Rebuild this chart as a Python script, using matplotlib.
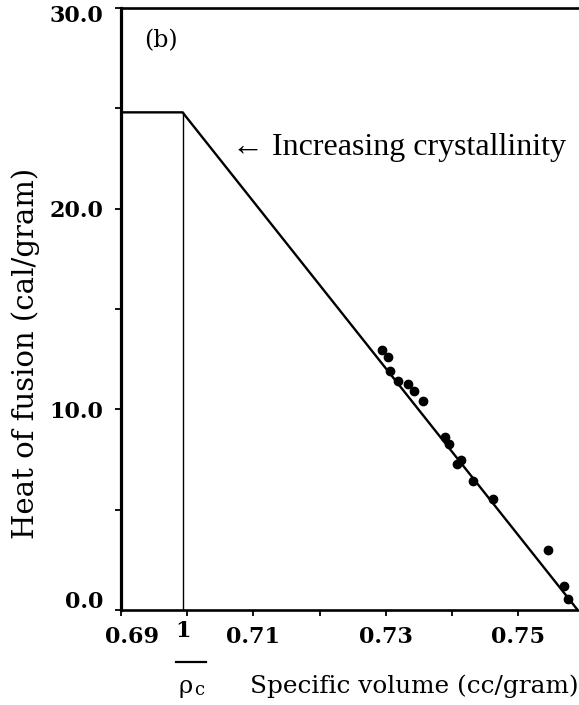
import matplotlib
matplotlib.use("Agg")
import matplotlib.pyplot as plt
import matplotlib.transforms as mtransforms
from matplotlib.lines import Line2D

# Measured specific volume (cc/g) and heat of fusion (cal/g)
specific_volume = [0.7294, 0.7303, 0.7306, 0.7318, 0.7333, 0.7342, 0.7357,
                   0.7389, 0.7395, 0.7408, 0.7413, 0.7432, 0.7462, 0.7545,
                   0.7569, 0.7576]
heat_of_fusion = [12.95, 12.6, 11.9, 11.4, 11.25, 10.9, 10.4,
                  8.6, 8.25, 7.3, 7.5, 6.45, 5.55, 3.0,
                  1.2, 0.55]

# Fitted relation: plateau at full crystallinity, linear drop to zero
inv_rho_c = 0.6993
plateau_heat = 24.8
zero_heat_volume = 0.7590

x_ticks = [0.69, 0.70, 0.71, 0.72, 0.73, 0.74, 0.75]
x_tick_labels = ["0.69", "", "0.71", "", "0.73", "", "0.75"]
y_ticks = [0, 10, 20, 30]
y_tick_labels = ["0.0", "10.0", "20.0", "30.0"]
y_minor_ticks = [5, 15, 25]

W, H = 579, 705
fig = plt.figure(figsize=(W / 100, H / 100), dpi=100)
fig.patch.set_facecolor("white")

ax = fig.add_axes([121 / W, 1 - 610 / H, 1 - 121 / W, (610 - 8) / H])
ax.set_xlim(0.69, 0.7592)
ax.set_ylim(0, 30)

# Trend line and construction lines
ax.plot([0.69, inv_rho_c, zero_heat_volume], [plateau_heat, plateau_heat, 0],
        color="black", lw=1.7, solid_capstyle="butt", clip_on=False, zorder=3)
ax.plot([inv_rho_c, inv_rho_c], [0, plateau_heat], color="black", lw=1.0,
        zorder=3)

# Data points
ax.plot(specific_volume, heat_of_fusion, "o", color="black", ms=6.0,
        mec="black", clip_on=False, zorder=4)

# Frame
for side in ("left", "bottom", "top"):
    ax.spines[side].set_color("black")
ax.spines["left"].set_linewidth(2.3)
ax.spines["bottom"].set_linewidth(1.9)
ax.spines["top"].set_linewidth(1.9)
ax.spines["right"].set_visible(False)

tick_font = dict(family="DejaVu Serif", weight="bold", size=16)
ax.set_xticks(x_ticks)
ax.set_xticklabels(x_tick_labels, fontdict=tick_font)
ax.set_yticks(y_ticks)
ax.set_yticklabels(y_tick_labels, fontdict=tick_font)
ax.set_yticks(y_minor_ticks, minor=True)
ax.tick_params(axis="both", which="both", direction="out", length=4.5,
               width=1.3, color="black")
ax.tick_params(axis="x", pad=7)
ax.tick_params(axis="y", pad=8)
ax.tick_params(top=False, right=False)

# Keep the corner labels clear of each other
for lbl in ax.get_xticklabels():
    if lbl.get_text() == "0.69":
        lbl.set_transform(lbl.get_transform() +
                          mtransforms.ScaledTranslation(0.11, 0, fig.dpi_scale_trans))
for lbl in ax.get_yticklabels():
    if lbl.get_text() == "0.0":
        lbl.set_transform(lbl.get_transform() +
                          mtransforms.ScaledTranslation(0, 0.1, fig.dpi_scale_trans))
    elif lbl.get_text() == "30.0":
        lbl.set_transform(lbl.get_transform() +
                          mtransforms.ScaledTranslation(0, -0.06, fig.dpi_scale_trans))

fig.text(26 / W, 1 - 353 / H, "Heat of fusion (cal/gram)", rotation=90,
         ha="center", va="center", family="DejaVu Serif", size=21)
fig.text(579 / W, 1 - 686 / H, "Specific volume (cc/gram)", ha="right",
         va="center", family="DejaVu Serif", size=17.8)

# 1/rho_c marker under the axis
fig.text(183 / W, 1 - 631 / H, "1", ha="center", va="center", **tick_font)
fig.add_artist(Line2D([176 / W, 206 / W], [1 - 662 / H, 1 - 662 / H],
                      color="black", lw=1.6, transform=fig.transFigure))
fig.text(186 / W, 1 - 686 / H, "ρ", ha="center", va="center",
         family="DejaVu Serif", size=17.5)
fig.text(199 / W, 1 - 690 / H, "c", ha="center", va="center",
         family="DejaVu Serif", size=13)

fig.text(161 / W, 1 - 41 / H, "(b)", ha="center", va="center",
         family="DejaVu Serif", size=17)
fig.text(232 / W, 1 - 148 / H, "\u2190 Increasing crystallinity", ha="left",
         va="center", family=["Liberation Serif", "DejaVu Serif"], size=23)

fig.savefig("out.png", dpi=100, facecolor="white")
